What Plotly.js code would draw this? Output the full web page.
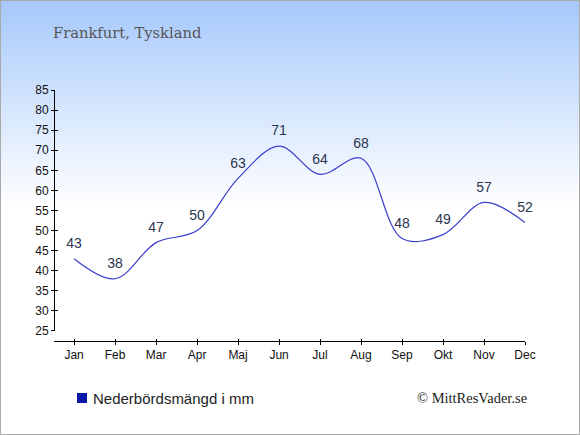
<!DOCTYPE html>
<html>
<head>
<meta charset="utf-8">
<script src="https://cdn.plot.ly/plotly-3.0.1.min.js"></script>
<style>
html,body{margin:0;padding:0;}
#wrap{width:580px;height:435px;box-sizing:border-box;border:1px solid #aaaaaa;
background:linear-gradient(to bottom,#a6c8fc 0px,#d6e6fd 110px,#ffffff 205px,#ffffff 435px);}
#chart{width:578px;height:433px;}
</style>
</head>
<body>
<div id="wrap"><div id="chart"></div></div>
<script>
var months = ["Jan","Feb","Mar","Apr","Maj","Jun","Jul","Aug","Sep","Okt","Nov","Dec"];
var precipitation = [43,38,47,50,63,71,64,68,48,49,57,52];
var yTicks = [25,30,35,40,45,50,55,60,65,70,75,80,85];

var trace = {
  x: months, y: precipitation, type: 'scatter', mode: 'lines+markers+text',
  line: {color: '#3a3fcc', width: 1.2, shape: 'spline', smoothing: 1},
  marker: {size: 10, opacity: 0, color: '#3a3fcc'},
  text: precipitation.map(String), textposition: 'top center',
  textfont: {family: 'Arial, Liberation Sans, sans-serif', size: 14, color: '#2a3550'},
  cliponaxis: false, hoverinfo: 'none', showlegend: false
};
var ghost = {x: months, y: precipitation, xaxis: 'x2', yaxis: 'y2', mode: 'none', type: 'scatter', showlegend: false, hoverinfo: 'none'};

var tickFont = {family: 'Arial, Liberation Sans, sans-serif', size: 12, color: '#111'};
var layout = {
  width: 578, height: 433,
  margin: {l: 53, r: 54, t: 89, b: 93},
  paper_bgcolor: 'rgba(0,0,0,0)', plot_bgcolor: 'rgba(0,0,0,0)',
  xaxis: {type: 'category', range: [-0.49, 11], showgrid: false, zeroline: false,
    showline: true, linecolor: '#000', linewidth: 1, ticks: 'outside', ticklen: 3, tickcolor: '#000',
    tickfont: tickFont, anchor: 'free', position: 0, fixedrange: true},
  xaxis2: {type: 'category', range: [-0.49, 11], overlaying: 'x', anchor: 'free', position: 0,
    showgrid: false, zeroline: false, showline: false, ticks: 'inside', ticklen: 2, tickcolor: '#000',
    showticklabels: false, matches: 'x'},
  yaxis: {range: [25, 85], domain: [0.04, 1], tickvals: yTicks, showgrid: false, zeroline: false,
    showline: true, linecolor: '#000', linewidth: 1, ticks: 'outside', ticklen: 3, tickcolor: '#000',
    tickfont: tickFont, anchor: 'free', position: 0, fixedrange: true},
  yaxis2: {range: [25, 85], overlaying: 'y', anchor: 'free', position: 0, tickvals: yTicks,
    showgrid: false, zeroline: false, showline: false, ticks: 'inside', ticklen: 3, tickcolor: '#000',
    showticklabels: false},
  annotations: [
    {text: 'Frankfurt, Tyskland', xref: 'paper', yref: 'paper', x: 0, y: 1, xshift: -3, yshift: 58,
     xanchor: 'left', yanchor: 'middle', showarrow: false,
     font: {family: 'DejaVu Serif, serif', size: 14.7, color: '#555'}},
    {text: 'Nederbördsmängd i mm', xref: 'paper', yref: 'paper', x: 0, y: 0, xshift: 37, yshift: -57,
     xanchor: 'left', yanchor: 'middle', showarrow: false,
     font: {family: 'Arial, Liberation Sans, sans-serif', size: 15, color: '#222'}},
    {text: '© MittResVader.se', xref: 'paper', yref: 'paper', x: 1, y: 0, xshift: 4, yshift: -57,
     xanchor: 'right', yanchor: 'middle', showarrow: false,
     font: {family: 'Liberation Serif, Times New Roman, serif', size: 14.5, color: '#222'}}
  ],
  shapes: [
    {type: 'rect', xref: 'paper', yref: 'paper',
     xsizemode: 'pixel', ysizemode: 'pixel', xanchor: 0, yanchor: 0,
     x0: 23, x1: 33, y0: -52, y1: -62, fillcolor: '#0a18a8', line: {width: 0}}
  ]
};
Plotly.newPlot('chart', [trace, ghost], layout, {staticPlot: true, displayModeBar: false});
</script>
</body>
</html>
